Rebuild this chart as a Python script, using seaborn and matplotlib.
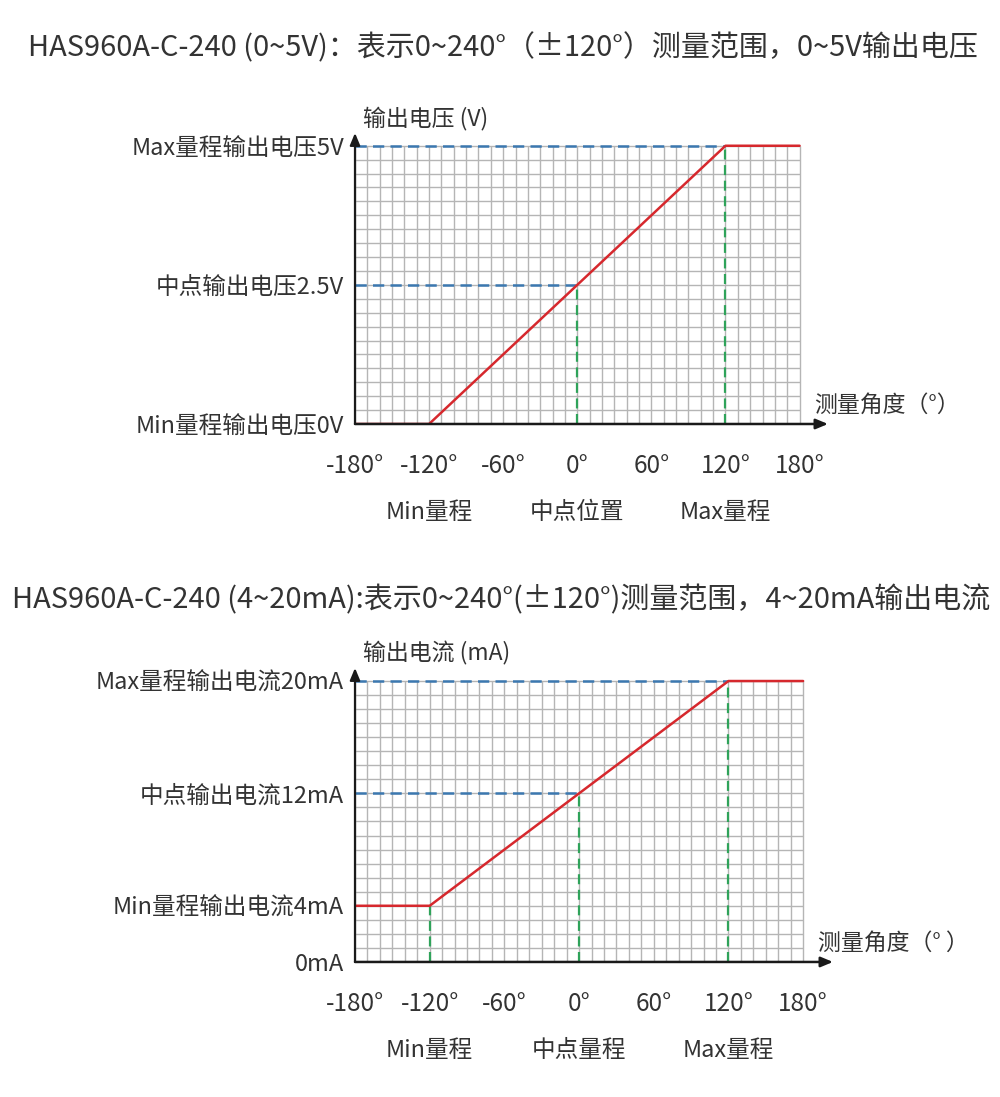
import numpy as np
import matplotlib.pyplot as plt
import seaborn as sns
import pandas as pd

sns.set_theme(style="white")
plt.rcParams['font.family'] = ['Noto Sans CJK SC', 'DejaVu Sans']

# angle points of the transfer curve (degrees)
angle = [-180, -120, 120, 180]
volt_out = [0, 0, 5, 5]
curr_out = [4, 4, 20, 20]

x_ticks = [-180, -120, -60, 0, 60, 120, 180]
x_tick_labels = ["-180°", "-120°", "-60°", "0°", "60°", "120°", "180°"]

volt_ticks = [0, 2.5, 5]
volt_labels = ["Min量程输出电压0V", "中点输出电压2.5V", "Max量程输出电压5V"]
curr_ticks = [0, 4, 12, 20]
curr_labels = ["0mA", "Min量程输出电流4mA", "中点输出电流12mA", "Max量程输出电流20mA"]

volt_marks = [0, 120]          # green/blue guide lines
curr_marks = [-120, 0, 120]
volt_guides = [2.5, 5]
curr_guides = [12, 20]

top_names = ["Min量程", "中点位置", "Max量程"]
bot_names = ["Min量程", "中点量程", "Max量程"]
name_pos = [-120, 0, 120]

title_top = "HAS960A-C-240 (0~5V)：表示0~240°（±120°）测量范围，0~5V输出电压"
title_bot = "HAS960A-C-240 (4~20mA):表示0~240°(±120°)测量范围，4~20mA输出电流"

RED = "#d6282d"
BLUE = "#3b78b0"
GREEN = "#2fa35a"
GRID = "#b5b5b5"
TXT = "#333333"


def curve_y(a, ys):
    # piecewise-linear value of the curve at angle a
    return float(np.interp(a, angle, ys))


def drawChart(ax, ys, ymax, ystep, yticks, ylabels, ytop, xtop, marks, guides,
              names, ylab, xlab, weight):
    # grid only inside the -180..180 / 0..ymax box
    ax.vlines(np.arange(-180, 181, 10), 0, ymax, color=GRID, lw=1, zorder=1)
    ax.hlines(np.arange(0, ymax + 1e-9, ystep), -180, 180, color=GRID, lw=1, zorder=1)

    # guide lines
    for m in marks:
        ax.plot([m, m], [0, curve_y(m, ys)], color=GREEN, lw=1.6,
                ls=(0, (4.5, 2.5)), zorder=2)
    for g in guides:
        xg = float(np.interp(g, ys[1:3], angle[1:3]))
        ax.plot([-180, xg], [g, g], color=BLUE, lw=1.8, ls=(0, (4.5, 2.5)), zorder=2)

    df = pd.DataFrame({"angle": angle, "out": ys})
    sns.lineplot(data=df, x="angle", y="out", color=RED, lw=1.8, ax=ax, zorder=4)

    # arrows for the axes
    ax.annotate("", xy=(xtop, 0), xytext=(-180, 0),
                arrowprops=dict(arrowstyle="-|>,head_length=0.6,head_width=0.25",
                                color="#1a1a1a", lw=1.8, shrinkA=0, shrinkB=0), zorder=5)
    ax.annotate("", xy=(-180, ytop), xytext=(-180, 0),
                arrowprops=dict(arrowstyle="-|>,head_length=0.6,head_width=0.25",
                                color="#1a1a1a", lw=1.6, shrinkA=0, shrinkB=0), zorder=5)

    ax.set_xlim(-180, xtop)
    ax.set_ylim(0, ytop)
    for s in ax.spines.values():
        s.set_visible(False)

    ax.set_xticks(x_ticks)
    ax.set_xticklabels(x_tick_labels, fontsize=17.5, color=TXT)
    ax.set_yticks(yticks)
    ax.set_yticklabels(ylabels, fontsize=17, color=TXT, fontweight=weight)
    ax.tick_params(axis="x", length=0, pad=21)
    ax.tick_params(axis="y", length=0, pad=8)
    ax.set_xlabel("")
    ax.set_ylabel("")

    for n, p in zip(names, name_pos):
        ax.annotate(n, xy=(p, 0), xytext=(0, -89), textcoords="offset pixels",
                    ha="center", va="center", fontsize=17, color=TXT)

    ax.annotate(ylab, xy=(-180, ytop), xytext=(8, 15), textcoords="offset pixels",
                ha="left", va="center", fontsize=16.5, color=TXT)
    ax.annotate(xlab, xy=(180, 0), xytext=(15, 19), textcoords="offset pixels",
                ha="left", va="center", fontsize=16.5, color=TXT)


fig = plt.figure(figsize=(10, 10.97), dpi=100)

ax1 = fig.add_axes([0.355, 0.6135, 0.473, 0.2653])
drawChart(ax1, volt_out, 5, 0.25, volt_ticks, volt_labels, 5.23, 203,
          volt_marks, volt_guides, top_names, "输出电压 (V)", "测量角度（°）", "normal")

ax2 = fig.add_axes([0.355, 0.1231, 0.478, 0.268])
drawChart(ax2, curr_out, 20, 1, curr_ticks, curr_labels, 20.93, 204,
          curr_marks, curr_guides, bot_names, "输出电流 (mA)", "测量角度（° ）", "medium")

fig.text(0.503, 1 - 48 / 1097, title_top, ha="center", va="center", fontsize=20.9, color=TXT)
fig.text(0.501, 1 - 600 / 1097, title_bot, ha="center", va="center", fontsize=20.9, color=TXT)

fig.savefig("out.png", dpi=100, facecolor="white")
